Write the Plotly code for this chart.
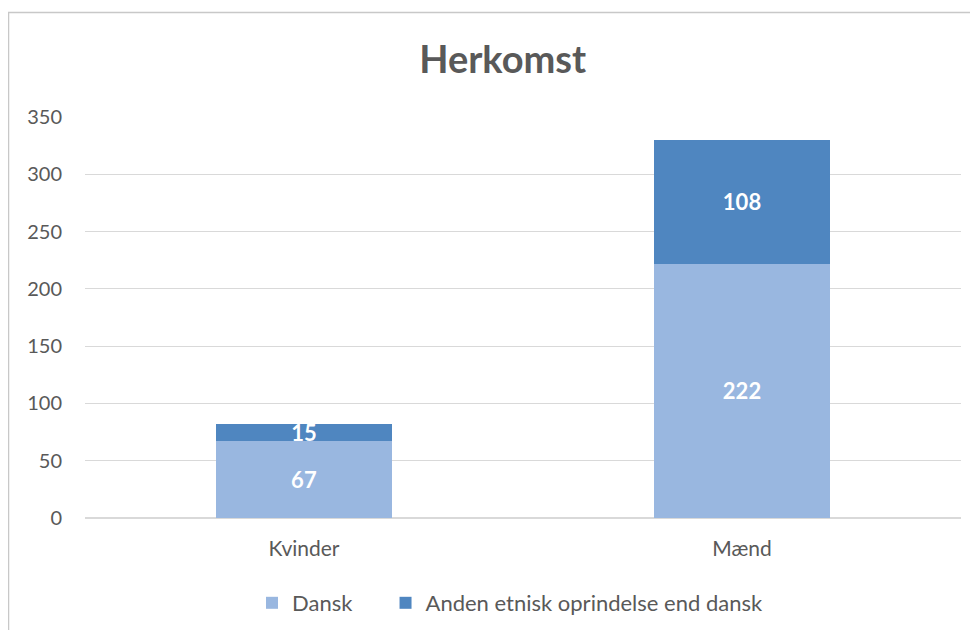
import plotly.graph_objects as go

categories = ["Kvinder", "Mænd"]
dansk = [67, 222]
anden = [15, 108]
series_names = ["Dansk", "Anden etnisk oprindelse end dansk"]
y_ticks = [0, 50, 100, 150, 200, 250, 300, 350]

FONT = "Lato, Calibri, sans-serif"
GREY = "#595959"

# the page body adds an 8px offset, so the figure is a bit smaller
W, H = 970, 622

fig = go.Figure()

fig.add_trace(go.Bar(
    x=categories, y=dansk, name=series_names[0] + "\u00a0" * 5,
    marker=dict(color="#99b7e0", line=dict(width=0)),
    text=dansk, textposition="inside", insidetextanchor="middle", textangle=0,
    textfont=dict(color="white", size=22, family=FONT, weight="bold"),
))
fig.add_trace(go.Bar(
    x=categories, y=anden, name=series_names[1],
    marker=dict(color="#4f86c0", line=dict(width=0)),
    text=anden, textposition="inside", insidetextanchor="middle", textangle=0,
    textfont=dict(color="white", size=22, family=FONT, weight="bold"),
))

fig.update_layout(
    barmode="stack",
    bargap=0.6,
    width=W, height=H,
    margin=dict(l=77, r=17, t=109, b=112, autoexpand=False),
    paper_bgcolor="white",
    plot_bgcolor="white",
    font=dict(family=FONT, color=GREY, size=21),
    title=dict(
        text="<b>Herkomst</b>", x=0.51, xanchor="center",
        y=1 - 52 / H, yanchor="middle",
        font=dict(size=38, color=GREY, family=FONT),
    ),
    legend=dict(
        orientation="h", x=(252 - 85) / 876, xanchor="left",
        yref="container", y=1 - 595 / H, yanchor="middle",
        font=dict(size=22, color=GREY), traceorder="normal",
        itemwidth=30,
    ),
    uniformtext=dict(minsize=10, mode="show"),
    showlegend=True,
)

fig.update_yaxes(
    range=[0, 350], tickvals=y_ticks, showgrid=True, automargin=False,
    gridcolor="#d9d9d9", gridwidth=1, zeroline=True, zerolinecolor="#d9d9d9",
    ticklabelstandoff=22, tickfont=dict(size=20, color=GREY),
    showline=False,
)
fig.update_xaxes(
    showgrid=False, showline=False, automargin=False,
    tickfont=dict(size=21, color=GREY), ticklabelstandoff=16,
)

# chart area border
fig.add_shape(
    type="rect", xref="paper", yref="paper",
    x0=(8.5 - 85) / 876, x1=(990 - 85) / 876,
    y0=-(650 - 518) / 401, y1=1 + (117 - 12.5) / 401,
    line=dict(color="#c8c8c8", width=1.5), fillcolor="rgba(0,0,0,0)",
    layer="below",
)

fig.write_html("out.html")
